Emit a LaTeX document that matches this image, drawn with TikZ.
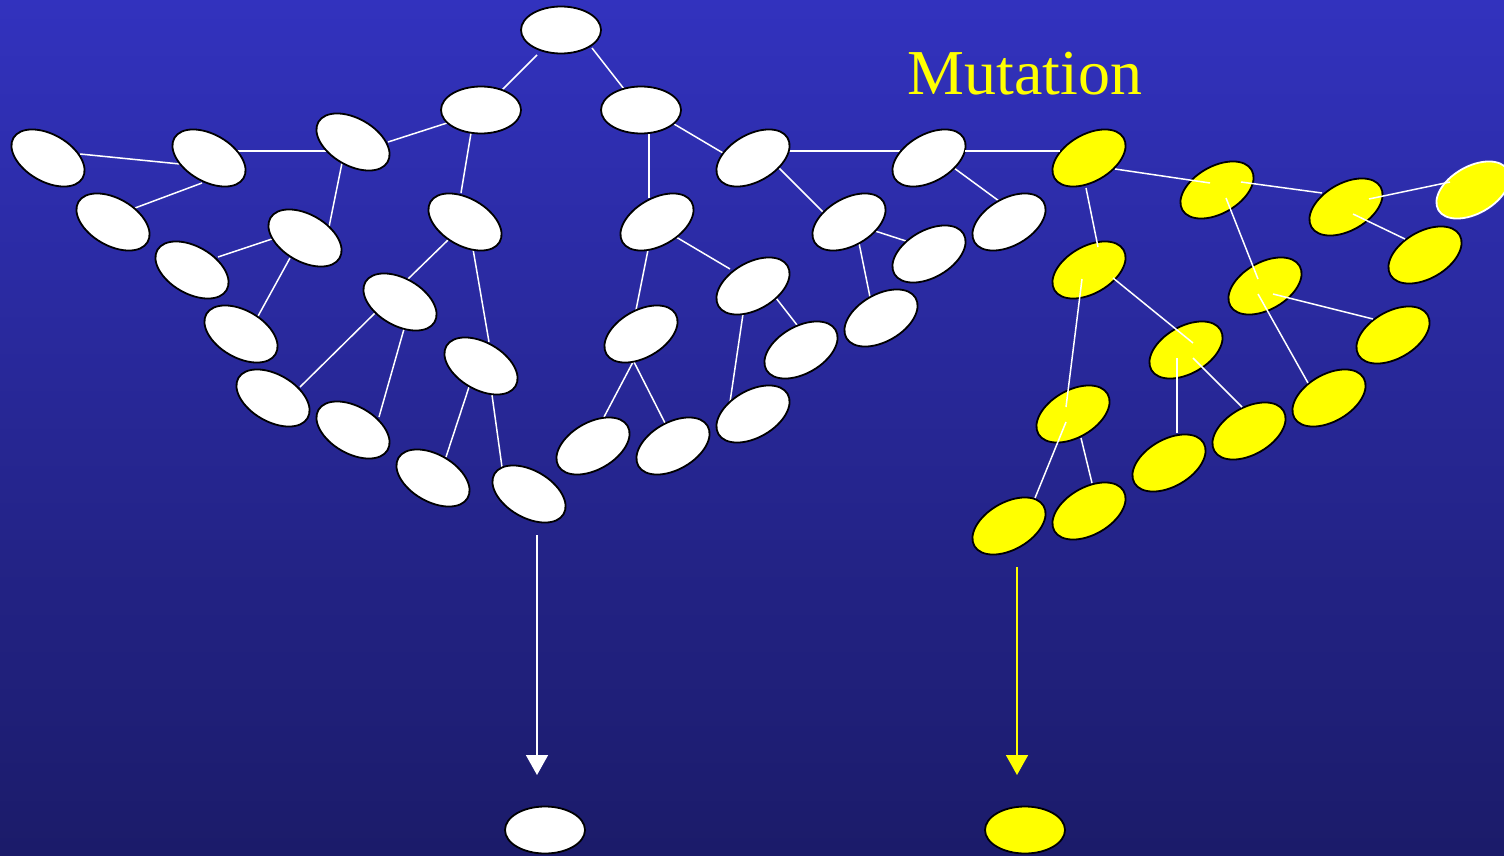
\documentclass[tikz,border=0pt]{standalone}
\usepackage{fontspec}
\setmainfont{Liberation Serif}
\usetikzlibrary{shapes.geometric,calc,arrows.meta}
\pgfdeclarelayer{bg}
\pgfdeclarelayer{edges}
\pgfsetlayers{bg,edges,main}
\definecolor{bgtop}{RGB}{50,50,190}
\definecolor{bgmid}{RGB}{40,40,155}
\definecolor{bgbot}{RGB}{27,27,105}
\definecolor{ylw}{RGB}{255,255,0}
\tikzset{
  cell/.style={ellipse, draw=black, line width=1.8pt, fill=white,
    minimum width=80pt, minimum height=47pt, inner sep=0pt},
  wcell/.style={cell},
  ycell/.style={cell, fill=ylw},
  hz/.style={},
  bs/.style={rotate=-30},
  fs/.style={rotate=30},
  link/.style={draw=white, line width=1.5pt},
  warrow/.style={draw=white, line width=1.7pt, -{Triangle[width=22pt,length=20pt]}},
  yarrow/.style={draw=ylw, fill=ylw, line width=1.7pt, -{Triangle[width=22pt,length=20pt]}},
}
\begin{document}
\begin{tikzpicture}[x=1pt,y=-1pt]
\useasboundingbox (0,0) rectangle (1504,856);
\begin{pgfonlayer}{bg}
\shade[top color=bgtop, middle color=bgmid, bottom color=bgbot] (0,0) rectangle (1504,856);
\end{pgfonlayer}
% white tree
\node[wcell,hz] (root) at (561,30) {};
\node[wcell,hz] (A) at (481,110) {};
\node[wcell,hz] (B) at (641,110) {};
\node[wcell,bs] (C) at (353,142) {};
\node[wcell,bs] (D) at (209,158) {};
\node[wcell,bs] (E) at (48,158) {};
\node[wcell,bs] (F) at (113,222) {};
\node[wcell,bs] (G) at (305,238) {};
\node[wcell,bs] (H) at (192,270) {};
\node[wcell,bs] (I) at (465,222) {};
\node[wcell,bs] (J) at (241,334) {};
\node[wcell,bs] (K) at (400,302) {};
\node[wcell,bs] (L) at (481,366) {};
\node[wcell,bs] (M) at (273,398) {};
\node[wcell,bs] (N) at (353,430) {};
\node[wcell,bs] (O) at (433,478) {};
\node[wcell,bs] (P) at (529,494) {};
\node[wcell,fs] (Q) at (753,158) {};
\node[wcell,fs] (R) at (929,158) {};
\node[wcell,fs] (S) at (657,222) {};
\node[wcell,fs] (T) at (849,222) {};
\node[wcell,fs] (U) at (1009,222) {};
\node[wcell,fs] (V) at (929,254) {};
\node[wcell,fs] (W) at (753,286) {};
\node[wcell,fs] (X) at (881,318) {};
\node[wcell,fs] (Y) at (641,334) {};
\node[wcell,fs] (Z) at (801,350) {};
\node[wcell,fs] (AA) at (753,414) {};
\node[wcell,fs] (AB) at (593,446) {};
\node[wcell,fs] (AC) at (673,446) {};
\node[wcell,hz] (outW) at (545,830) {};
% yellow tree
\node[ycell,fs] (y1) at (1089,158) {};
\node[ycell,fs] (y2) at (1217,190) {};
\node[ycell,fs] (y3) at (1346,207) {};
\node[ycell,fs,draw=white] (y4) at (1473,190) {};
\node[ycell,fs] (y5) at (1425,255) {};
\node[ycell,fs] (y6) at (1089,270) {};
\node[ycell,fs] (y7) at (1265,286) {};
\node[ycell,fs] (y8) at (1393,335) {};
\node[ycell,fs] (y9) at (1186,350) {};
\node[ycell,fs] (y10) at (1329,398) {};
\node[ycell,fs] (y11) at (1073,414) {};
\node[ycell,fs] (y12) at (1249,431) {};
\node[ycell,fs] (y13) at (1169,463) {};
\node[ycell,fs] (y14) at (1089,511) {};
\node[ycell,fs] (y15) at (1009,526) {};
\node[ycell,hz] (outY) at (1025,830) {};
% label
\node[font=\fontsize{64}{64}\selectfont, text=ylw, anchor=base, inner sep=0pt] (mut) at (1025,95) {Mutation};
% white links (behind)
\begin{pgfonlayer}{edges}
\draw[link] ($(root)+(-24,25)$) -- ($(A)+(21,-20)$);
\draw[link] ($(root)+(31,18)$) -- ($(B)+(-17,-21)$);
\draw[link] ($(A)+(-34,13)$) -- ($(C)+(35,0)$);
\draw[link] ($(A)+(-10,23)$) -- ($(I)+(-4,-29)$);
\draw[link] ($(C)+(-27,9)$) -- ($(D)+(28,-7)$);
\draw[link] ($(C)+(-11,21)$) -- ($(G)+(24,-11)$);
\draw[link] ($(E)+(32,-4)$) -- ($(D)+(-29,6)$);
\draw[link] ($(D)+(-7,25)$) -- ($(F)+(22,-14)$);
\draw[link] ($(G)+(-33,1)$) -- ($(H)+(26,-13)$);
\draw[link] ($(G)+(-15,20)$) -- ($(J)+(16,-16)$);
\draw[link] ($(I)+(-17,18)$) -- ($(K)+(8,-23)$);
\draw[link] ($(I)+(8,27)$) -- ($(L)+(8,-24)$);
\draw[link] ($(K)+(-25,11)$) -- ($(M)+(27,-11)$);
\draw[link] ($(K)+(4,27)$) -- ($(N)+(26,-13)$);
\draw[link] ($(L)+(-12,21)$) -- ($(O)+(13,-21)$);
\draw[link] ($(L)+(11,29)$) -- ($(P)+(-27,-27)$);
\draw[link] ($(B)+(33,14)$) -- ($(Q)+(-30,-5)$);
\draw[link] ($(B)+(8,23)$) -- ($(S)+(-8,-24)$);
\draw[link] ($(Q)+(36,-7)$) -- ($(R)+(-29,-7)$);
\draw[link] ($(Q)+(26,10)$) -- ($(T)+(-25,-9)$);
\draw[link] ($(R)+(25,10)$) -- ($(U)+(-10,-21)$);
\draw[link] ($(S)+(19,15)$) -- ($(W)+(-23,-17)$);
\draw[link] ($(S)+(-9,28)$) -- ($(Y)+(-5,-24)$);
\draw[link] ($(T)+(26,9)$) -- ($(V)+(-23,-13)$);
\draw[link] ($(T)+(10,21)$) -- ($(X)+(-11,-21)$);
\draw[link] ($(W)+(23,12)$) -- ($(Z)+(-4,-25)$);
\draw[link] ($(W)+(-10,28)$) -- ($(AA)+(-23,-12)$);
\draw[link] ($(Y)+(-8,28)$) -- ($(AB)+(11,-29)$);
\draw[link] ($(Y)+(-7,28)$) -- ($(AC)+(-8,-23)$);
\end{pgfonlayer}
% yellow links (on top)
\draw[link] ($(R)+(36,-7)$) -- ($(y1)+(-29,-7)$);
\draw[link] ($(y1)+(26,11)$) -- ($(y2)+(-7,-7)$);
\draw[link] ($(y2)+(24,-8)$) -- ($(y3)+(-24,-14)$);
\draw[link] ($(y3)+(23,-8)$) -- ($(y4)+(-23,-8)$);
\draw[link] ($(y3)+(7,7)$) -- ($(y5)+(-20,-16)$);
\draw[link] ($(y2)+(9,8)$) -- ($(y7)+(-7,-7)$);
\draw[link] ($(y7)+(8,8)$) -- ($(y8)+(-20,-16)$);
\draw[link] ($(y7)+(-7,8)$) -- ($(y10)+(-21,-15)$);
\draw[link] ($(y1)+(-3,30)$) -- ($(y6)+(9,-23)$);
\draw[link] ($(y6)+(24,8)$) -- ($(y9)+(7,-7)$);
\draw[link] ($(y6)+(-7,9)$) -- ($(y11)+(-7,-7)$);
\draw[link] ($(y9)+(-9,8)$) -- ($(y13)+(8,-30)$);
\draw[link] ($(y9)+(7,8)$) -- ($(y12)+(-7,-24)$);
\draw[link] ($(y11)+(-7,8)$) -- ($(y15)+(26,-28)$);
\draw[link] ($(y11)+(8,24)$) -- ($(y14)+(3,-28)$);
% arrows
\coordinate (ws) at (537,535);
\coordinate (we) at (537,775);
\coordinate (ys) at (1017,567);
\coordinate (ye) at (1017,775);
\draw[warrow] (ws) -- (we);
\draw[yarrow] (ys) -- (ye);
\end{tikzpicture}
\end{document}
